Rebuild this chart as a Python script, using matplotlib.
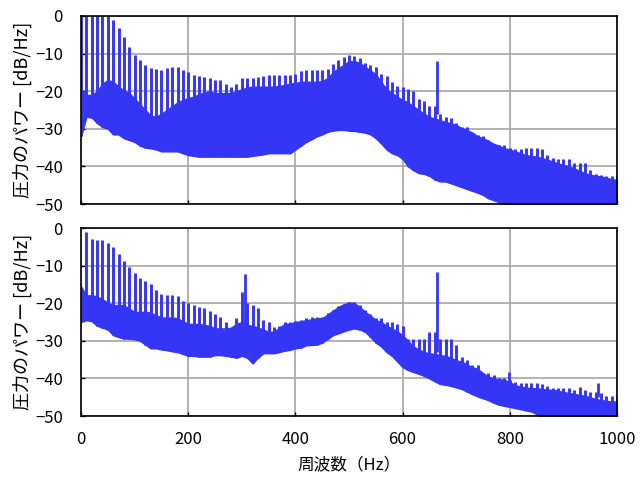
import numpy as np
import matplotlib
matplotlib.use("Agg")
import matplotlib.pyplot as plt

plt.rcParams['font.family'] = ['Noto Sans CJK JP', 'DejaVu Sans']

# frequency grid (Hz), 10 Hz steps
freq = np.arange(0, 1001, 10)

# --- upper panel: comb peaks, top and bottom of the dense band (dB/Hz) ---
top_peak = [0, 0, 0, 0, 0, 0, -1, -3.3, -5.5, -8.3,
            -10.5, -11.8, -13, -13.9, -14.1, -14.4, -13.9, -13.5, -13.6, -14.4,
            -14.8, -15.6, -16, -16.3, -16.6, -17, -17, -18, -18.8, -18,
            -16.5, -16.5, -16.5, -16.3, -16, -15.7, -15.7, -15.7, -15.7, -15.7,
            -15.5, -14.6, -14.4, -14.4, -14.4, -14.4, -14, -12.8, -11.7, -10.9,
            -10.4, -10.6, -11.2, -12.5, -13, -13.5, -15.5, -16, -17.5, -18.6,
            -19, -19.5, -20, -22, -22.5, -24, -24, -26, -26.8, -27,
            -28.5, -29.4, -29.6, -31, -31.6, -32, -33, -34, -34.3, -34.3,
            -35, -35.5, -35.5, -35.2, -35.2, -35.2, -35.5, -37, -37.8, -38,
            -38, -38, -39, -39.2, -39.2, -41, -42, -42.2, -42.5, -42.5,
            -42.5]
top_hi = [-19.7, -21, -21, -20, -18, -17, -17.5, -18.8, -19.8, -20.5,
          -22, -23.5, -25, -26.5, -26.8, -26, -25, -24, -23, -22.3,
          -21.8, -21.5, -20.8, -20.3, -20, -20.5, -20.5, -20.5, -20.5, -20,
          -19.5, -19, -18.8, -18.8, -18.8, -18.8, -18.8, -18.6, -18.3, -18,
          -17.8, -17.5, -17.5, -17.5, -17.5, -17.3, -16.5, -15, -13.9, -13,
          -12, -12, -12.5, -13.5, -14.5, -15.5, -17.5, -19.5, -20.5, -21.5,
          -22.3, -23, -24, -25, -26, -26.8, -27.3, -27.7, -28.2, -28.5,
          -29, -29.8, -30.3, -31, -32, -32.5, -33.2, -34, -34.5, -35.2,
          -35.5, -36, -36.5, -37, -37.2, -37.4, -37.8, -38.2, -38.7, -39.2,
          -39.6, -40, -40.5, -41.2, -41.8, -42.2, -42.5, -42.7, -43, -43.4,
          -43.6]
top_lo = [-32, -26.8, -27, -28.5, -29.5, -30, -31.5, -31.5, -32.5, -33,
          -33.5, -34.5, -35, -35.2, -35.5, -36, -36, -36, -36, -36.5,
          -37, -37.2, -37.4, -37.4, -37.4, -37.4, -37.4, -37.4, -37.4, -37.4,
          -37.4, -37.4, -37.2, -37, -36.8, -36.5, -36.5, -36.5, -36.5, -36.5,
          -35.5, -34.5, -33.5, -32.8, -32, -31.5, -30.8, -30.5, -30.3, -30.3,
          -30.5, -30.6, -30.8, -31, -31.5, -32.5, -33.9, -35.5, -36.5, -37,
          -38, -40, -41, -41.8, -42, -42.5, -43.5, -44, -44, -44.5,
          -45, -45.5, -46, -46.5, -47, -47.6, -48.5, -49, -49.5, -50.5,
          -51, -51, -51, -51, -51, -51, -51, -51, -51, -51,
          -51, -51, -51, -51, -51, -51, -51, -51, -51, -51,
          -51]
top_tone_f = [665]
top_tone_base = [-26]
top_tone_db = [-12.1]

# --- lower panel ---
bot_peak = [-15.6, -1, -3, -3.3, -3.3, -4, -5, -7, -8.8, -10.5,
            -12, -13.2, -14, -15, -16.5, -17.5, -17.9, -17.9, -18, -19.3,
            -20, -20.5, -21, -21.4, -22, -23, -23.6, -25, -27, -24,
            -17, -20, -20.5, -21.4, -24.5, -25, -26.3, -26, -25, -25,
            -24.8, -24.5, -24, -23.6, -23.6, -23.6, -22.5, -21.8, -20.8, -20.1,
            -19.6, -19.6, -20.5, -21.8, -23, -24, -24, -25, -25, -25.4,
            -26, -29.5, -29.5, -29.5, -29.4, -27.6, -27.6, -29.4, -29.4, -29.4,
            -31, -34.2, -35, -36.4, -36.5, -38.6, -38.6, -39, -40, -40,
            -40.5, -41, -41.3, -41.3, -41.3, -41.3, -41.5, -42, -42.6, -42.6,
            -42.6, -42.6, -43, -42.2, -43, -43.5, -43.5, -44, -44.8, -44.8,
            -44.8]
bot_hi = [-15.6, -17.9, -17.9, -18.2, -19, -19.8, -20.5, -20.5, -20.5, -21.5,
          -22.3, -22.3, -22.3, -22.5, -23.2, -23.8, -23.8, -23.8, -24, -24.8,
          -25.5, -25.5, -25.5, -25.8, -26, -26.7, -26.7, -26.7, -26.5, -25.5,
          -25, -25.8, -26, -26.5, -27, -27.6, -27.6, -26.5, -25.5, -25.4,
          -25, -24.8, -24.5, -24.3, -24, -24, -23, -22, -21, -20.3,
          -19.8, -20, -21, -22.3, -23.3, -24.5, -25, -26, -26.7, -27.5,
          -28.5, -30, -31.5, -32.3, -33, -33.3, -33.5, -33.8, -34, -34.5,
          -35.2, -35.5, -36.3, -37, -37.5, -38.6, -39.5, -40, -40.2, -40.4,
          -41, -41.8, -42.2, -42.4, -42.6, -42.6, -42.8, -43, -43, -43.3,
          -43.6, -43.9, -44.1, -44.4, -44.6, -45, -45.5, -45.7, -46, -46.1,
          -46.2]
bot_lo = [-25, -24.5, -24.8, -26, -26.5, -27, -28.5, -29, -29.4, -29.4,
          -29.6, -30, -31, -32, -32, -32.3, -32.5, -32.8, -33, -33.5,
          -34, -34, -34.2, -34.2, -34.2, -33.8, -33.8, -34, -34.2, -34.5,
          -34, -34.5, -36, -34.5, -33.3, -33.3, -33.3, -33, -32.6, -32.4,
          -32, -31.8, -31.2, -31.1, -31, -30.5, -29.5, -28.5, -28, -27.5,
          -27, -26.7, -27, -27.6, -29, -30.5, -31.5, -33, -34, -35.5,
          -37, -37.8, -38.3, -38.8, -39.3, -40, -40.8, -41.5, -41.7, -42,
          -42.4, -42.8, -43.5, -44.2, -44.8, -45.3, -45.8, -46.5, -47, -47.3,
          -47.6, -47.9, -48.2, -48.5, -48.8, -49.5, -50.5, -51, -51, -51,
          -51, -51, -51, -51, -51, -51, -51, -51, -51, -51,
          -51]
bot_tone_f = [306, 665, 799, 965]
bot_tone_base = [-27, -33, -41, -45]
bot_tone_db = [-12.1, -11.7, -38.2, -41.3]

blue = '#3535F5'
grid_col = '#A6A6A6'

fig = plt.figure(figsize=(6.4, 4.79), dpi=100)
ax1 = fig.add_axes([0.1266, 0.5741, 0.8375, 0.3925])
ax2 = fig.add_axes([0.1266, 0.1315, 0.8375, 0.3925])

panels = [(ax1, top_peak, top_hi, top_lo, top_tone_f, top_tone_base, top_tone_db),
          (ax2, bot_peak, bot_hi, bot_lo, bot_tone_f, bot_tone_base, bot_tone_db)]

for ax, peak, hi, lo, tf, tb, tdb in panels:
    ax.fill_between(freq, lo, hi, color=blue, lw=1.0)
    ax.vlines(freq, lo, peak, color=blue, lw=2.1)
    ax.vlines(tf, tb, tdb, color=blue, lw=2.0)
    ax.set_xlim(0, 1000)
    ax.set_ylim(-50, 0)
    ax.set_yticks(range(-50, 1, 10))
    ax.set_xticks(range(0, 1001, 200))
    ax.grid(True, color=grid_col, lw=1.2)
    ax.set_axisbelow(True)
    ax.tick_params(direction='in', length=3, width=1, labelsize=12)
    ax.tick_params(axis='y', pad=13)
    ax.tick_params(axis='x', pad=11)
    for s in ax.spines.values():
        s.set_color('black')
        s.set_linewidth(1.2)
    ax.set_ylabel('圧力のパワー [dB/Hz]', fontsize=13, labelpad=2)

ax1.tick_params(labelbottom=False)
ax2.set_xlabel('周波数（Hz）', fontsize=12, labelpad=6)

fig.savefig('out.png', dpi=100)
